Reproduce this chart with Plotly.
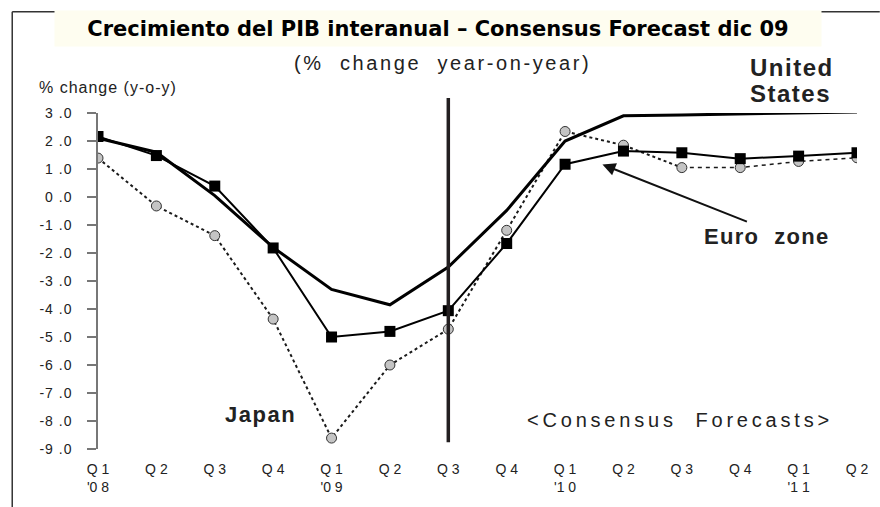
import plotly.graph_objects as go

# quarters shown on the x axis
quarters = ["Q1'08", "Q2'08", "Q3'08", "Q4'08", "Q1'09", "Q2'09", "Q3'09",
            "Q4'09", "Q1'10", "Q2'10", "Q3'10", "Q4'10", "Q1'11", "Q2'11"]
quarter_labels = ["Q 1<br>'0 8", "Q 2", "Q 3", "Q 4", "Q 1<br>'0 9", "Q 2", "Q 3",
                  "Q 4", "Q 1<br>'1 0", "Q 2", "Q 3", "Q 4", "Q 1<br>'1 1", "Q 2"]

# GDP growth, % change y-o-y
united_states = [2.1, 1.6, 0.05, -1.8, -3.3, -3.85, -2.5, -0.48,
                 2.0, 2.9, 2.93, 2.96, 2.99, 3.04]
euro_zone = [2.16, 1.48, 0.39, -1.82, -5.0, -4.8, -4.06, -1.66,
             1.17, 1.64, 1.58, 1.37, 1.46, 1.58]
japan = [1.39, -0.32, -1.38, -4.36, -8.61, -6.0, -4.72, -1.19,
         2.34, 1.85, 1.05, 1.05, 1.27, 1.4]

y_ticks = [3, 2, 1, 0, -1, -2, -3, -4, -5, -6, -7, -8, -9]
forecast_start = "Q3'09"
japan_dash_from = "Q3'10"   # japan line switches from dotted to dashed here

FONT = "Liberation Sans, Arial, sans-serif"


def spaced(txt, px):
    return f'<span style="letter-spacing:{px}px">{txt}</span>'


def label(fig, txt, x, y, size, xanchor="center", family=FONT, **kw):
    fig.add_annotation(xref="paper", yref="paper", x=x, y=y, text=txt,
                       xanchor=xanchor, yanchor="middle", showarrow=False,
                       font=dict(family=family, size=size, color=kw.pop("color", "#222")),
                       **kw)


x = list(range(len(quarters)))
y_labels = [spaced(f"{v:.1f}".replace(".", " ."), 1) for v in y_ticks]
k = quarters.index(japan_dash_from)

fig = go.Figure()

# Japan (dotted then dashed, grey circles)
fig.add_trace(go.Scatter(x=x[:k + 1], y=japan[:k + 1], mode="lines",
                         line=dict(color="#1a1a1a", width=2, dash="dot")))
fig.add_trace(go.Scatter(x=x[k:], y=japan[k:], mode="lines",
                         line=dict(color="#1a1a1a", width=1.5, dash="4px,4px")))
fig.add_trace(go.Scatter(
    x=x, y=japan, mode="markers", name="Japan",
    marker=dict(symbol="circle", size=10, color="#c4c4c4",
                line=dict(color="#333333", width=1))
))
# United States (thick solid line)
fig.add_trace(go.Scatter(
    x=x, y=united_states, mode="lines", name="United States",
    line=dict(color="#000000", width=3)
))
# Euro zone (solid, black squares)
fig.add_trace(go.Scatter(
    x=x, y=euro_zone, mode="lines+markers", name="Euro zone",
    line=dict(color="#000000", width=2),
    marker=dict(symbol="square", size=11, color="#000000")
))

x_range = [0, len(quarters) - 1]
zero_pos = (0 - min(y_ticks)) / (max(y_ticks) - min(y_ticks))

fig.update_layout(
    width=880, height=507,
    margin=dict(l=98, r=19, t=113, b=55),
    paper_bgcolor="white", plot_bgcolor="white",
    showlegend=False,
    font=dict(family=FONT, color="#222222", size=14),
    xaxis=dict(range=x_range, tickvals=x, ticktext=quarter_labels,
               showgrid=False, zeroline=False, showline=False, ticks="",
               tickfont=dict(family=FONT, size=14, color="#222"),
               ticklabelstandoff=10),
    xaxis2=dict(overlaying="x", anchor="free", position=zero_pos, range=x_range,
                tickvals=x, showticklabels=False, showgrid=False, zeroline=False,
                showline=True, linecolor="#777777", linewidth=1.5,
                ticks="outside", ticklen=4, tickcolor="#777777", tickwidth=1.5),
    xaxis3=dict(overlaying="x", anchor="free", position=zero_pos, range=x_range,
                tickvals=x, showticklabels=False, showgrid=False, zeroline=False,
                showline=False, ticks="inside", ticklen=4,
                tickcolor="#777777", tickwidth=1.5),
    yaxis=dict(range=[min(y_ticks), max(y_ticks)], tickvals=y_ticks, ticktext=y_labels,
               showgrid=False, zeroline=False, showline=True,
               linecolor="#777777", linewidth=1.5,
               ticks="outside", ticklen=9, tickcolor="#777777", tickwidth=1.5,
               tickfont=dict(family=FONT, size=14, color="#222"),
               ticklabelstandoff=12),
    yaxis2=dict(overlaying="y", range=[min(y_ticks), max(y_ticks)], tickvals=y_ticks,
                showticklabels=False, showgrid=False, zeroline=False, showline=False,
                ticks="inside", ticklen=7, tickcolor="#777777", tickwidth=1.5),
)

# forecast boundary
fig.add_shape(type="line", xref="x", yref="paper",
              x0=quarters.index(forecast_start), x1=quarters.index(forecast_start),
              y0=0.02, y1=1.045, line=dict(color="#231f20", width=3.5))

# frame
fig.add_shape(type="line", xref="paper", yref="paper", x0=-0.113, x1=1.03,
              y0=1.301, y1=1.301, line=dict(color="#333333", width=1.5))
fig.add_shape(type="line", xref="paper", yref="paper", x0=-0.113, x1=-0.113,
              y0=1.301, y1=-0.2, line=dict(color="#333333", width=1.5))

# title box
label(fig, "<b>Crecimiento del PIB interanual – Consensus Forecast dic 09</b>",
      0.4482, 1.2522, 21, family="DejaVu Sans, Verdana, sans-serif", color="#000",
      width=766, height=35, bgcolor="#fefdf0", borderpad=0)

label(fig, spaced("(%  change  year-on-year)", 2.6), 0.4535, 1.150, 20)
label(fig, spaced("% change (y-o-y)", 1), -0.080, 1.0767, 16, xanchor="left")

label(fig, spaced("<b>United</b>", 1.5), 0.857, 1.1357, 24, xanchor="left")
label(fig, spaced("<b>States</b>", 1.5), 0.857, 1.059, 24, xanchor="left")
label(fig, spaced("<b>Euro  zone</b>", 1.3), 0.8807, 0.6313, 22)
label(fig, spaced("<b>Japan</b>", 1.5), 0.2136, 0.1018, 22)
label(fig, spaced("&lt;Consensus  Forecasts&gt;", 3.8), 0.7674, 0.087, 20)

# arrow pointing at the euro zone line
fig.add_annotation(x=8.64, y=1.16, ax=11.14, ay=-0.9, axref="x", ayref="y",
                   text="", showarrow=True, arrowhead=2, arrowsize=1.3,
                   arrowwidth=2, arrowcolor="#111111")

fig.write_html("out.html", config={"displayModeBar": False},
               post_script="document.body.style.margin='0';")
